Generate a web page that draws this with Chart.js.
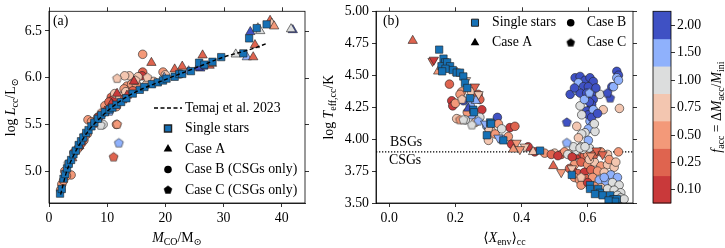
<!DOCTYPE html>
<html>
<head>
<meta charset="utf-8">
<script src="https://cdn.jsdelivr.net/npm/chart.js@4.4.1/dist/chart.umd.min.js"></script>
<style>
body { margin: 0; background: #fff; }
#wrap { position: relative; width: 725px; height: 248px; }
canvas { position: absolute; top: 0; }
#ca { left: 0; }
#cb { left: 320px; }
</style>
</head>
<body>
<div id="wrap">
  <canvas id="ca" width="320" height="248"></canvas>
  <canvas id="cb" width="405" height="248"></canvas>
</div>
<script>
// ---- data ----
// colour bins for f_acc (index 0 = 0.10 ... 6 = 2.00)
const faccTicks = ['0.10', '0.25', '0.50', '0.75', '1.00', '1.50', '2.00']
const binColors = ['#c9393a', '#df644f', '#f39979', '#f3c6b0', '#dcdddd', '#8fb1fc', '#3f51c4']

// Temaj et al. 2023 relation
const temajX = [2.0, 3.0, 4.0, 5.0, 6.0, 7.0, 8.0, 10.0, 12.0, 15.0, 20.0, 25.0, 30.0, 35.0, 37.6]
const temajY = [4.75, 4.99, 5.14, 5.26, 5.36, 5.45, 5.52, 5.64, 5.74, 5.85, 5.98, 6.10, 6.22, 6.31, 6.37]

// panel (a): M_CO, log L_cc  ([x, y] or [x, y, colour bin])
const aSingle = [[1.9,4.76],[2.2,4.81],[2.5,4.92],[2.8,4.97],[3.1,5.03],[3.4,5.08],[3.8,5.12],[4.2,5.18],[4.6,5.22],[5.1,5.28],[5.5,5.32],[5.9,5.36],[6.4,5.41],[6.8,5.44],[7.3,5.48],[7.8,5.52],[8.4,5.56],[9.0,5.60],[9.6,5.63],[10.4,5.66],[10.9,5.68],[11.6,5.71],[12.4,5.74],[13.3,5.78],[14.4,5.83],[15.6,5.87],[16.4,5.90],[17.7,5.93],[18.7,5.95],[19.6,5.97],[20.2,5.99],[21.6,6.01],[22.4,6.04],[22.9,6.04],[24.4,6.07],[25.8,6.16],[26.7,6.14],[28.1,6.17],[29.6,6.22],[33.4,6.26],[34.4,6.42],[35.7,6.53],[37.4,6.57]]
const aCaseA = [[17.6,6.16,1],[11.7,5.83,0],[14.6,5.96,0],[13.4,5.81,0],[10.7,5.72,0],[9.6,5.64,0],[7.5,5.50,1],[5.2,5.27,1],[4.0,5.14,1],[12.6,5.76,1],[21.6,6.09,1],[22.9,6.12,1],[26.4,6.24,1],[27.6,6.13,1],[26.0,6.10,6],[26.5,6.12,6],[25.6,6.11,6],[32.1,6.25,4],[34.0,6.22,5],[35.1,6.22,1],[35.4,6.35,1],[34.6,6.49,6],[35.9,6.53,4],[36.3,6.50,4],[38.0,6.61,1],[38.3,6.58,3],[38.7,6.55,2],[41.9,6.51,6],[41.6,6.52,4],[19.8,6.00,5],[24.0,6.07,5],[28.0,6.15,2]]
const aCaseB = [[16.1,6.25,2],[16.1,6.06,1],[16.0,6.02,0],[13.8,6.02,3],[13.0,6.02,3],[15.3,6.01,3],[19.6,6.06,2],[20.0,6.03,3],[13.4,5.91,2],[14.2,5.93,2],[15.0,5.93,2],[10.7,5.79,1],[10.9,5.76,0],[11.3,5.83,3],[10.0,5.69,0],[9.6,5.70,2],[6.7,5.55,2],[7.3,5.53,2],[9.3,5.50,4],[11.6,5.50,2],[3.8,4.96,2],[2.7,5.00,2],[2.0,4.80,2],[2.2,4.86,2],[4.3,5.20,1],[5.2,5.26,1],[6.0,5.33,2],[6.6,5.40,2],[7.9,5.52,2],[8.4,5.58,2],[8.6,5.58,0],[9.2,5.62,1],[12.2,5.80,3],[12.9,5.88,2],[13.2,5.85,3],[14.4,5.86,1],[3.0,4.95,2],[2.5,4.90,2],[4.8,5.23,2],[5.6,5.30,1],[10.3,5.74,1],[11.6,5.69,2],[16.8,5.93,3],[18.0,5.96,3],[22.5,6.04,3]]
const aCaseC = [[11.7,5.99,3],[11.7,5.50,2],[12.0,5.30,5],[11.1,5.15,1],[8.9,5.49,4],[10.4,5.64,5],[9.1,5.63,2],[3.3,5.08,4],[6.2,5.38,2],[16.9,6.00,3],[14.9,5.97,3]]

// panel (b): <X_env>_cc, log Teff,cc
const bSingle = [[0.151,4.70],[0.164,4.63],[0.169,4.60],[0.158,4.57],[0.175,4.60],[0.184,4.57],[0.192,4.54],[0.204,4.52],[0.214,4.52],[0.224,4.49],[0.229,4.44],[0.236,4.40],[0.244,4.32],[0.254,4.23],[0.256,4.21],[0.305,4.13],[0.308,4.12],[0.295,4.03],[0.345,3.99],[0.456,3.91],[0.552,3.72],[0.607,3.64],[0.607,3.61],[0.632,3.61],[0.637,3.58],[0.645,3.56],[0.668,3.56],[0.678,3.53],[0.688,3.53],[0.683,3.51],[0.663,3.52],[0.622,3.57],[0.170,4.55],[0.160,4.53]]
const bCaseAUp = [[0.071,4.77,1],[0.148,4.53,2],[0.239,4.24,6],[0.262,4.30,5],[0.375,3.92,2],[0.496,3.79,1],[0.435,3.90,3],[0.205,4.52,4]]
const bCaseADown = [[0.131,4.61,1],[0.135,4.62,0],[0.259,4.41,1],[0.33,4.01,5],[0.29,4.12,5],[0.385,3.97,2],[0.41,3.94,3],[0.395,3.92,2],[0.52,3.74,2],[0.552,3.77,3],[0.627,3.91,1],[0.645,3.88,1],[0.61,3.87,2],[0.27,4.35,3],[0.232,4.46,3]]
const bCaseB = [
  [0.182,4.43,1],[0.219,4.37,2],[0.214,4.35,2],[0.249,4.37,3],[0.269,4.35,1],[0.189,4.30,0],[0.192,4.26,0],[0.224,4.30,6],[0.28,4.23,0],[0.274,4.31,1],[0.204,4.16,3],[0.249,4.19,5],[0.274,4.17,4],[0.295,4.10,5],[0.327,4.17,6],[0.33,4.12,2],[0.365,4.09,0],[0.38,4.10,1],[0.34,4.08,4],[0.31,4.06,3],[0.32,4.04,2],[0.36,4.02,2],[0.37,3.96,0],[0.42,3.94,0],[0.30,3.99,3],[0.26,4.13,3],[0.236,4.21,2],[0.245,4.26,5],[0.20,4.28,2],[0.23,4.15,4],[0.34,4.00,5],
  [0.44,3.90,0],[0.47,3.89,2],[0.50,3.89,3],[0.52,3.88,1],[0.53,3.90,2],[0.55,3.89,3],[0.56,3.87,0],[0.57,3.88,0],[0.58,3.90,1],[0.59,3.87,1],[0.60,3.88,2],[0.62,3.89,2],[0.64,3.90,2],[0.66,3.88,3],[0.693,3.90,2],[0.49,3.88,1],[0.51,3.87,0],[0.54,3.88,4],[0.565,3.91,4],[0.585,3.92,4],[0.605,3.93,4],[0.58,3.94,4],[0.553,3.86,0],
  [0.56,3.80,2],[0.58,3.82,1],[0.60,3.80,2],[0.62,3.82,3],[0.64,3.79,2],[0.66,3.80,3],[0.68,3.78,3],[0.555,3.75,0],[0.57,3.73,1],[0.59,3.74,0],[0.61,3.76,1],[0.63,3.75,2],[0.65,3.74,3],[0.67,3.72,5],[0.69,3.70,5],[0.56,3.70,2],[0.575,3.68,2],[0.595,3.69,1],[0.615,3.70,2],[0.635,3.68,5],[0.655,3.67,5],[0.675,3.66,4],[0.695,3.64,4],[0.58,3.64,2],[0.60,3.66,0],[0.62,3.63,2],[0.64,3.62,3],[0.66,3.61,4],[0.68,3.60,4],[0.70,3.58,4],[0.69,3.56,4],[0.70,3.54,4],[0.71,3.53,4],[0.545,3.77,1],[0.605,3.84,3],[0.665,3.84,2],[0.685,3.82,3],[0.65,3.70,5],
  [0.562,4.48,6],[0.577,4.49,6],[0.592,4.46,6],[0.607,4.48,6],[0.617,4.45,6],[0.572,4.44,5],[0.587,4.41,6],[0.602,4.41,6],[0.547,4.35,6],[0.567,4.38,5],[0.577,4.36,6],[0.597,4.36,6],[0.612,4.35,6],[0.617,4.31,6],[0.637,4.35,4],[0.612,4.27,6],[0.607,4.23,6],[0.597,4.22,6],[0.602,4.19,6],[0.617,4.23,5],[0.577,4.26,4],[0.582,4.19,4],[0.647,4.23,3],[0.696,4.24,3],[0.673,4.41,6],[0.688,4.53,6],[0.693,4.50,6],[0.688,4.48,5],[0.678,4.41,5],[0.693,4.46,5],[0.607,4.14,5],[0.612,4.10,5],[0.602,4.08,5],[0.592,4.05,4],[0.582,4.04,4],[0.567,4.10,3],[0.572,4.01,3],[0.622,4.06,4],[0.602,3.99,5],[0.557,3.94,4],[0.577,3.93,4],[0.592,3.94,4],[0.612,4.17,6],[0.605,4.29,6],[0.59,4.31,5],[0.56,4.40,6],[0.625,4.40,6],[0.62,4.12,4],[0.63,4.20,6]
]
const bCaseC = [[0.214,4.15,2],[0.224,4.15,4],[0.269,4.14,5],[0.537,4.13,6],[0.537,3.97,5],[0.668,4.32,6],[0.66,4.36,6],[0.30,4.08,3],[0.22,4.31,3],[0.605,4.36,5],[0.62,3.88,1],[0.58,3.70,3],[0.25,4.11,4]]

const teffSplit = 3.9

// ---- style ----
const SERIF = '"Liberation Serif", "Times New Roman", "DejaVu Serif", serif'
const FS = 13.8
const EDGE = '#222'
const SINGLE_COLOR = '#1570b5'

function pts(arr) {
    return arr.map(p => ({ x: p[0], y: p[1], c: p[2] }))
}
function binColor(c) {
    return c.raw ? binColors[c.raw.c] : '#000'
}

// pentagon markers (Chart.js has no pentagon pointStyle)
function pentagon(fill, r) {
    const cv = document.createElement('canvas')
    const s = Math.ceil(2 * r + 3)
    cv.width = cv.height = s
    const g = cv.getContext('2d')
    g.beginPath()
    for (let i = 0; i < 5; i++) {
        const a = -Math.PI / 2 + i * 2 * Math.PI / 5
        g.lineTo(s / 2 + r * Math.cos(a), s / 2 + r * Math.sin(a))
    }
    g.closePath()
    g.fillStyle = fill
    g.fill()
    g.strokeStyle = EDGE
    g.lineWidth = 0.6
    g.stroke()
    return cv
}
const pentImgs = binColors.map(c => pentagon(c, 4.7))
const pentBlack = pentagon('#000', 4.2)

// text with sub-scripts / italics; parts: [text, kind] kind r|i|s|si
function rich(ctx, parts, x, y, size) {
    const fontOf = k => (k === 'i' || k === 'si' ? 'italic ' : '') + (k[0] === 's' ? size * 0.72 : size) + 'px ' + SERIF
    let w = 0
    parts.forEach(p => { ctx.font = fontOf(p[1]); w += ctx.measureText(p[0]).width })
    let cx = x - w / 2
    ctx.textAlign = 'left'
    ctx.textBaseline = 'alphabetic'
    parts.forEach(p => {
        ctx.font = fontOf(p[1])
        ctx.fillText(p[0], cx, y + (p[1][0] === 's' ? size * 0.24 : 0))
        cx += ctx.measureText(p[0]).width
    })
}
function richV(ctx, parts, x, y, size) {
    ctx.save()
    ctx.translate(x, y)
    ctx.rotate(-Math.PI / 2)
    rich(ctx, parts, 0, 0, size)
    ctx.restore()
}

function axis(min, max, step, dec, fit) {
    return {
        type: 'linear', min: min, max: max,
        ticks: {
            stepSize: step, includeBounds: false, autoSkip: false, maxRotation: 0,
            color: '#000', font: { family: SERIF, size: FS }, padding: 3,
            callback: v => v.toFixed(dec)
        },
        grid: { drawOnChartArea: false, drawTicks: true, tickLength: 4, tickWidth: 0.8, tickColor: '#000' },
        border: { display: true, color: '#000', width: 0.8 },
        afterFit: fit
    }
}

// frame and mirrored ticks on top / right
const framePlugin = {
    id: 'frame',
    afterDraw(chart) {
        const { ctx, chartArea: a, scales: { x, y } } = chart
        ctx.save()
        ctx.strokeStyle = '#000'
        ctx.lineWidth = 0.8
        ctx.strokeRect(a.left, a.top, a.right - a.left, a.bottom - a.top)
        ctx.beginPath()
        x.ticks.forEach(t => {
            const p = Math.round(x.getPixelForValue(t.value)) + 0.5
            ctx.moveTo(p, a.top); ctx.lineTo(p, a.top - 4)
        })
        y.ticks.forEach(t => {
            const p = Math.round(y.getPixelForValue(t.value)) + 0.5
            ctx.moveTo(a.right, p); ctx.lineTo(a.right + 4, p)
        })
        ctx.stroke()
        ctx.restore()
    }
}

function legendMarker(ctx, kind, x, y) {
    ctx.save()
    ctx.fillStyle = kind === 'rect' ? SINGLE_COLOR : '#000'
    ctx.strokeStyle = EDGE
    if (kind === 'pent') {
        ctx.drawImage(pentBlack, x - pentBlack.width / 2, y - pentBlack.height / 2)
    } else {
        const r = kind === 'rect' ? 5 : kind === 'triangle' ? 5 : 3.8
        Chart.helpers.drawPoint(ctx, { pointStyle: kind, rotation: 0, radius: r, borderWidth: kind === 'rect' ? 0.6 : 0 }, x, y)
    }
    ctx.restore()
}
function legendText(ctx, txt, x, y) {
    ctx.font = FS + 'px ' + SERIF
    ctx.fillStyle = '#000'
    ctx.textAlign = 'left'
    ctx.textBaseline = 'middle'
    ctx.fillText(txt, x, y)
}

function scatterSets(single, triUp, triDown, circ, pent) {
    const sets = [
        { data: pts(single), pointStyle: 'rect', pointRadius: 5.2, backgroundColor: SINGLE_COLOR, borderColor: EDGE, borderWidth: 0.6, order: 1 },
        { data: pts(triUp), pointStyle: 'triangle', pointRadius: 5.4, backgroundColor: binColor, borderColor: EDGE, borderWidth: 0.6, order: 2 },
        { data: pts(pent), pointStyle: c => c.raw ? pentImgs[c.raw.c] : 'circle', pointRadius: 4.7, order: 3 },
        { data: pts(circ), pointStyle: 'circle', pointRadius: 4.3, backgroundColor: binColor, borderColor: EDGE, borderWidth: 0.6, order: 4 }
    ]
    if (triDown) {
        sets.push({ data: pts(triDown), pointStyle: 'triangle', rotation: 180, pointRadius: 5.4, backgroundColor: binColor, borderColor: EDGE, borderWidth: 0.6, order: 2 })
    }
    return sets
}

const common = {
    responsive: false,
    animation: false,
    devicePixelRatio: 1,
    plugins: { legend: { display: false }, tooltip: { enabled: false } },
    elements: { point: { hoverRadius: 0 } }
}

// ---- panel (a) ----
new Chart(document.getElementById('ca'), {
    type: 'scatter',
    data: {
        datasets: [
            {
                type: 'line', data: temajX.map((x, i) => ({ x: x, y: temajY[i] })),
                borderColor: '#000', borderWidth: 1.4, borderDash: [4, 2.5], pointRadius: 0,
                cubicInterpolationMode: 'monotone', fill: false, order: 0
            },
            ...scatterSets(aSingle, aCaseA, null, aCaseB, aCaseC)
        ]
    },
    options: {
        ...common,
        layout: { padding: { left: 0, right: 15, top: 7, bottom: 0 } },
        scales: {
            x: axis(0, 44, 10, 0, s => { s.height = 45 }),
            y: axis(4.66, 6.71, 0.5, 1, s => { s.width = 49 })
        }
    },
    plugins: [framePlugin, {
        id: 'deco',
        afterDraw(chart) {
            const { ctx, chartArea: a } = chart
            ctx.save()
            ctx.fillStyle = '#000'
            legendText(ctx, '(a)', a.left + 4, 21.5)
            // legend
            ctx.strokeStyle = '#000'
            ctx.lineWidth = 1.4
            ctx.setLineDash([4, 2.5])
            ctx.beginPath(); ctx.moveTo(154, 108); ctx.lineTo(182, 108); ctx.stroke()
            ctx.setLineDash([])
            legendText(ctx, 'Temaj et al. 2023', 185, 108)
            const rows = [['rect', 'Single stars'], ['triangle', 'Case A'], ['circle', 'Case B (CSGs only)'], ['pent', 'Case C (CSGs only)']]
            rows.forEach((r, i) => {
                const yy = 128.5 + i * 20.5
                legendMarker(ctx, r[0], 168, yy)
                legendText(ctx, r[1], 185, yy)
            })
            // axis titles
            ctx.fillStyle = '#000'
            rich(ctx, [['M', 'i'], ['CO', 's'], ['/M', 'r'], ['\u2299', 's']], (a.left + a.right) / 2, 242, FS)
            richV(ctx, [['log ', 'r'], ['L', 'i'], ['cc', 's'], ['/L', 'r'], ['\u2299', 's']], 14.5, (a.top + a.bottom) / 2, FS)
            ctx.restore()
        }
    }]
})

// ---- panel (b) ----
new Chart(document.getElementById('cb'), {
    type: 'scatter',
    data: { datasets: scatterSets(bSingle, bCaseAUp, bCaseADown, bCaseB, bCaseC) },
    options: {
        ...common,
        layout: { padding: { left: 0, right: 92, top: 7, bottom: 0 } },
        scales: {
            x: axis(-0.04, 0.737, 0.2, 1, s => { s.height = 45 }),
            y: axis(3.5, 5.0, 0.25, 2, s => { s.width = 56 })
        }
    },
    plugins: [framePlugin, {
        id: 'deco',
        beforeDatasetsDraw(chart) {
            const { ctx, chartArea: a, scales: { y } } = chart
            const py = y.getPixelForValue(teffSplit)
            ctx.save()
            ctx.strokeStyle = '#000'
            ctx.lineWidth = 1.3
            ctx.setLineDash([1.3, 1.7])
            ctx.beginPath(); ctx.moveTo(a.left, py); ctx.lineTo(a.right, py); ctx.stroke()
            ctx.restore()
        },
        afterDraw(chart) {
            const { ctx, chartArea: a, scales: { y } } = chart
            const py = y.getPixelForValue(teffSplit)
            ctx.save()
            legendText(ctx, '(b)', a.left + 7, 21.5)
            legendText(ctx, 'BSGs', a.left + 14, py - 9.5)
            legendText(ctx, 'CSGs', a.left + 13, py + 8.5)
            // legend, two columns
            legendMarker(ctx, 'rect', 155, 22.7); legendText(ctx, 'Single stars', 172, 22.7)
            legendMarker(ctx, 'triangle', 155, 42.7); legendText(ctx, 'Case A', 172, 42.7)
            legendMarker(ctx, 'circle', 250.7, 22.7); legendText(ctx, 'Case B', 266.7, 22.7)
            legendMarker(ctx, 'pent', 250.7, 42.7); legendText(ctx, 'Case C', 266.7, 42.7)
            // colour bar
            const cbL = 333, cbR = 351, cbT = a.top, cbB = a.bottom
            const h = (cbB - cbT) / binColors.length
            binColors.forEach((col, i) => {
                ctx.fillStyle = col
                ctx.fillRect(cbL, cbB - (i + 1) * h, cbR - cbL, h + 0.5)
            })
            ctx.strokeStyle = '#000'
            ctx.lineWidth = 0.8
            ctx.strokeRect(cbL, cbT, cbR - cbL, cbB - cbT)
            ctx.beginPath()
            faccTicks.forEach((t, i) => {
                const ty = Math.round(cbB - (i + 0.5) * h) + 0.5
                ctx.moveTo(cbR, ty); ctx.lineTo(cbR + 4, ty)
                legendText(ctx, t, cbR + 6, ty)
            })
            ctx.stroke()
            // axis titles
            ctx.fillStyle = '#000'
            rich(ctx, [['\u27e8', 'r'], ['X', 'i'], ['env', 's'], ['\u27e9', 'r'], ['cc', 's']], (a.left + a.right) / 2, 242, FS)
            richV(ctx, [['log ', 'r'], ['T', 'i'], ['eff,cc', 's'], ['/K', 'r']], 13, (a.top + a.bottom) / 2, FS)
            richV(ctx, [['f', 'i'], ['acc', 's'], [' = \u0394', 'r'], ['M', 'i'], ['acc', 's'], ['/', 'r'], ['M', 'i'], ['ini', 's']], 401, (cbT + cbB) / 2, FS)
            ctx.restore()
        }
    }]
})
</script>
</body>
</html>
